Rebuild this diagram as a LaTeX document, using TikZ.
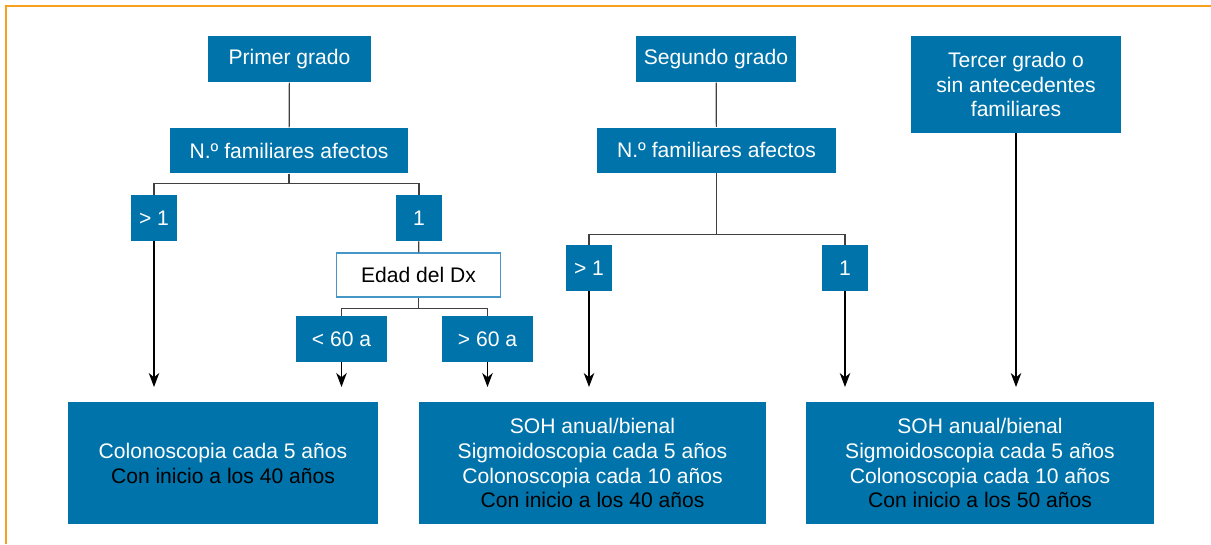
\documentclass[tikz,border=0pt]{standalone}
\usepackage{fontspec}
\usetikzlibrary{arrows.meta}
\setmainfont{Liberation Sans}
\definecolor{boxblue}{RGB}{0,115,170}
\definecolor{edgeblue}{RGB}{70,150,200}
\definecolor{frameorange}{RGB}{247,160,30}

\begin{document}
\begin{tikzpicture}
            [>={Stealth[length=8pt, width=6pt, inset=2.5pt]}, semithick,
             bluebox/.style={rectangle, fill=boxblue, text=white, inner sep=0pt, align=center,
                             font=\fontsize{12}{14.2}\selectfont},
             whitebox/.style={rectangle, draw=edgeblue, fill=white, text=black, inner sep=0pt,
                              font=\fontsize{12}{14.2}\selectfont},
             link/.style={draw=black!75, line width=0.7pt},
             arrow/.style={->, draw=black, line width=0.7pt}]
            \useasboundingbox (0,0) rectangle (24.22,-10.88);
            \draw[frameorange, line width=0.85pt] (0.12,-10.88) -- (0.12,-0.12) -- (24.22,-0.12);

            % primer grado
            \node[bluebox, minimum width=3.26cm, minimum height=0.92cm] (pg) at (5.79,-1.18) {Primer grado};
            \node[bluebox, minimum width=4.76cm, minimum height=0.9cm] (nfa1) at (5.78,-3.01) {N.º familiares afectos};
            \node[bluebox, minimum width=0.91cm, minimum height=0.91cm] (g1a) at (3.08,-4.36) {> 1};
            \node[bluebox, minimum width=0.91cm, minimum height=0.91cm] (e1a) at (8.38,-4.36) {1};
            \node[whitebox, minimum width=3.27cm, minimum height=0.88cm] (edad) at (8.37,-5.5) {Edad del Dx};
            \node[bluebox, minimum width=1.81cm, minimum height=0.91cm] (lt60) at (6.83,-6.78) {< 60 a};
            \node[bluebox, minimum width=1.81cm, minimum height=0.91cm] (gt60) at (9.75,-6.78) {> 60 a};
            \node[bluebox, minimum width=6.2cm, minimum height=2.44cm] (res1) at (4.46,-9.26)
                {Colonoscopia cada 5 años\\\textcolor{black}{Con inicio a los 40 años}};

            % segundo grado
            \node[bluebox, minimum width=3.2cm, minimum height=0.92cm] (sg) at (14.32,-1.18) {Segundo grado};
            \node[bluebox, minimum width=4.77cm, minimum height=0.9cm] (nfa2) at (14.33,-3.0) {N.º familiares afectos};
            \node[bluebox, minimum width=0.91cm, minimum height=0.91cm] (g2a) at (11.78,-5.36) {> 1};
            \node[bluebox, minimum width=0.91cm, minimum height=0.91cm] (e2a) at (16.9,-5.36) {1};
            \node[bluebox, minimum width=6.94cm, minimum height=2.44cm] (res2) at (11.85,-9.26)
                {SOH anual/bienal\\Sigmoidoscopia cada 5 años\\Colonoscopia cada 10 años\\\textcolor{black}{Con inicio a los 40 años}};

            % tercer grado
            \node[bluebox, minimum width=4.2cm, minimum height=1.93cm] (tg) at (20.32,-1.69)
                {Tercer grado o\\sin antecedentes\\familiares};
            \node[bluebox, minimum width=6.96cm, minimum height=2.44cm] (res3) at (19.6,-9.26)
                {SOH anual/bienal\\Sigmoidoscopia cada 5 años\\Colonoscopia cada 10 años\\\textcolor{black}{Con inicio a los 50 años}};

            % arrow ends
            \coordinate (g1aend) at (3.08,-7.74);
            \coordinate (lt60end) at (6.83,-7.74);
            \coordinate (gt60end) at (9.75,-7.74);
            \coordinate (g2aend) at (11.78,-7.74);
            \coordinate (e2aend) at (16.9,-7.74);
            \coordinate (tgend) at (20.32,-7.74);

            \path [link] (pg) -- (nfa1);
            \path [link] (nfa1.south) -- ++(0,-0.2) -| (g1a.north);
            \path [link] (nfa1.south) -- ++(0,-0.2) -| (e1a.north);
            \path [link] (e1a) -- (edad);
            \path [link] (edad.south) -- ++(0,-0.22) -| (lt60.north);
            \path [link] (edad.south) -- ++(0,-0.22) -| (gt60.north);
            \path [link] (sg) -- (nfa2);
            \path [link] (nfa2.south) -- ++(0,-1.23) -| (g2a.north);
            \path [link] (nfa2.south) -- ++(0,-1.23) -| (e2a.north);

            \path [arrow] (g1a.south) -- (g1aend);
            \path [arrow] (lt60.south) -- (lt60end);
            \path [arrow] (gt60.south) -- (gt60end);
            \path [arrow] (g2a.south) -- (g2aend);
            \path [arrow] (e2a.south) -- (e2aend);
            \path [arrow] (tg.south) -- (tgend);
        \end{tikzpicture}
\end{document}
